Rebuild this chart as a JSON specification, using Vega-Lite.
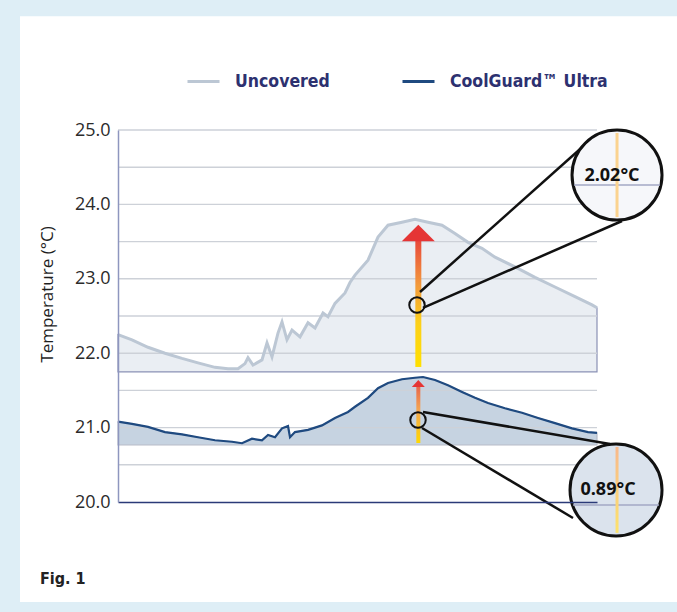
{
  "$schema": "https://vega.github.io/schema/vega-lite/v6.json",
  "width": 479,
  "height": 372,
  "autosize": "none",
  "padding": {"left": 118, "top": 130, "right": 80, "bottom": 110},
  "background": "#deeef6",
  "config": {"view": {"stroke": null}, "font": "Open Sans"},
  "title": {
    "text": "Fig. 1",
    "orient": "bottom",
    "anchor": "start",
    "frame": "group",
    "dx": -78,
    "offset": -31,
    "font": "DejaVu Sans Condensed, sans-serif",
    "fontSize": 16,
    "fontWeight": "bold",
    "color": "#222222"
  },
  "datasets": {
    "panel": [{"x1": -20.46, "x2": 130, "y1": 26.53, "y2": 18.656}],
    "grid": [{"g": 20.5}, {"g": 21.0}, {"g": 21.5}, {"g": 22.0}, {"g": 22.5}, {"g": 23.0}, {"g": 23.5}, {"g": 24.0}, {"g": 24.5}, {"g": 25.0}],
    "curves": [
      {"series": "Uncovered", "t": 0, "temp": 22.25},
      {"series": "Uncovered", "t": 2.92, "temp": 22.18},
      {"series": "Uncovered", "t": 6.26, "temp": 22.08},
      {"series": "Uncovered", "t": 9.81, "temp": 22.0},
      {"series": "Uncovered", "t": 13.36, "temp": 21.93},
      {"series": "Uncovered", "t": 16.7, "temp": 21.87},
      {"series": "Uncovered", "t": 20.25, "temp": 21.81},
      {"series": "Uncovered", "t": 22.96, "temp": 21.79},
      {"series": "Uncovered", "t": 25.05, "temp": 21.79},
      {"series": "Uncovered", "t": 26.51, "temp": 21.86},
      {"series": "Uncovered", "t": 27.14, "temp": 21.94},
      {"series": "Uncovered", "t": 28.18, "temp": 21.84},
      {"series": "Uncovered", "t": 30.06, "temp": 21.91},
      {"series": "Uncovered", "t": 31.11, "temp": 22.14},
      {"series": "Uncovered", "t": 32.15, "temp": 21.95},
      {"series": "Uncovered", "t": 33.4, "temp": 22.27},
      {"series": "Uncovered", "t": 34.24, "temp": 22.42},
      {"series": "Uncovered", "t": 35.28, "temp": 22.18},
      {"series": "Uncovered", "t": 36.33, "temp": 22.31},
      {"series": "Uncovered", "t": 38.0, "temp": 22.22},
      {"series": "Uncovered", "t": 39.67, "temp": 22.41},
      {"series": "Uncovered", "t": 41.13, "temp": 22.34},
      {"series": "Uncovered", "t": 42.8, "temp": 22.54},
      {"series": "Uncovered", "t": 43.84, "temp": 22.49},
      {"series": "Uncovered", "t": 45.3, "temp": 22.67},
      {"series": "Uncovered", "t": 47.39, "temp": 22.81},
      {"series": "Uncovered", "t": 48.43, "temp": 22.95},
      {"series": "Uncovered", "t": 49.48, "temp": 23.05},
      {"series": "Uncovered", "t": 52.19, "temp": 23.25},
      {"series": "Uncovered", "t": 54.28, "temp": 23.56},
      {"series": "Uncovered", "t": 56.37, "temp": 23.72},
      {"series": "Uncovered", "t": 59.29, "temp": 23.76},
      {"series": "Uncovered", "t": 62.0, "temp": 23.8},
      {"series": "Uncovered", "t": 64.72, "temp": 23.76},
      {"series": "Uncovered", "t": 67.64, "temp": 23.72},
      {"series": "Uncovered", "t": 70.35, "temp": 23.61},
      {"series": "Uncovered", "t": 73.07, "temp": 23.49},
      {"series": "Uncovered", "t": 75.99, "temp": 23.41},
      {"series": "Uncovered", "t": 78.71, "temp": 23.29},
      {"series": "Uncovered", "t": 82.88, "temp": 23.16},
      {"series": "Uncovered", "t": 87.06, "temp": 23.02},
      {"series": "Uncovered", "t": 91.23, "temp": 22.89},
      {"series": "Uncovered", "t": 95.41, "temp": 22.76},
      {"series": "Uncovered", "t": 98.96, "temp": 22.65},
      {"series": "Uncovered", "t": 100, "temp": 22.61},
      {"series": "CoolGuard™ Ultra", "t": 0, "temp": 21.08},
      {"series": "CoolGuard™ Ultra", "t": 2.92, "temp": 21.05},
      {"series": "CoolGuard™ Ultra", "t": 6.26, "temp": 21.01},
      {"series": "CoolGuard™ Ultra", "t": 9.81, "temp": 20.94},
      {"series": "CoolGuard™ Ultra", "t": 13.36, "temp": 20.91},
      {"series": "CoolGuard™ Ultra", "t": 16.7, "temp": 20.87},
      {"series": "CoolGuard™ Ultra", "t": 20.25, "temp": 20.83},
      {"series": "CoolGuard™ Ultra", "t": 23.8, "temp": 20.81},
      {"series": "CoolGuard™ Ultra", "t": 25.89, "temp": 20.79},
      {"series": "CoolGuard™ Ultra", "t": 27.97, "temp": 20.85},
      {"series": "CoolGuard™ Ultra", "t": 30.06, "temp": 20.83},
      {"series": "CoolGuard™ Ultra", "t": 31.32, "temp": 20.9},
      {"series": "CoolGuard™ Ultra", "t": 32.78, "temp": 20.87},
      {"series": "CoolGuard™ Ultra", "t": 34.24, "temp": 20.99},
      {"series": "CoolGuard™ Ultra", "t": 35.49, "temp": 21.02},
      {"series": "CoolGuard™ Ultra", "t": 35.91, "temp": 20.87},
      {"series": "CoolGuard™ Ultra", "t": 36.95, "temp": 20.94},
      {"series": "CoolGuard™ Ultra", "t": 39.67, "temp": 20.97},
      {"series": "CoolGuard™ Ultra", "t": 42.59, "temp": 21.03},
      {"series": "CoolGuard™ Ultra", "t": 45.3, "temp": 21.13},
      {"series": "CoolGuard™ Ultra", "t": 48.02, "temp": 21.21},
      {"series": "CoolGuard™ Ultra", "t": 49.48, "temp": 21.28},
      {"series": "CoolGuard™ Ultra", "t": 52.19, "temp": 21.4},
      {"series": "CoolGuard™ Ultra", "t": 54.28, "temp": 21.53},
      {"series": "CoolGuard™ Ultra", "t": 56.37, "temp": 21.6},
      {"series": "CoolGuard™ Ultra", "t": 59.29, "temp": 21.65},
      {"series": "CoolGuard™ Ultra", "t": 62.0, "temp": 21.67},
      {"series": "CoolGuard™ Ultra", "t": 63.67, "temp": 21.68},
      {"series": "CoolGuard™ Ultra", "t": 66.18, "temp": 21.64},
      {"series": "CoolGuard™ Ultra", "t": 68.89, "temp": 21.57},
      {"series": "CoolGuard™ Ultra", "t": 71.82, "temp": 21.48},
      {"series": "CoolGuard™ Ultra", "t": 74.53, "temp": 21.4},
      {"series": "CoolGuard™ Ultra", "t": 77.24, "temp": 21.33},
      {"series": "CoolGuard™ Ultra", "t": 80.79, "temp": 21.26},
      {"series": "CoolGuard™ Ultra", "t": 84.34, "temp": 21.2},
      {"series": "CoolGuard™ Ultra", "t": 87.68, "temp": 21.13},
      {"series": "CoolGuard™ Ultra", "t": 91.23, "temp": 21.06},
      {"series": "CoolGuard™ Ultra", "t": 94.78, "temp": 20.99},
      {"series": "CoolGuard™ Ultra", "t": 98.12, "temp": 20.94},
      {"series": "CoolGuard™ Ultra", "t": 100, "temp": 20.93}
    ],
    "shafts": [
      {"series": "Uncovered", "t": 62.7, "y1": 21.815, "y2": 23.508},
      {"series": "CoolGuard™ Ultra", "t": 62.7, "y1": 20.793, "y2": 21.546}
    ],
    "heads": [
      {"series": "Uncovered", "t": 62.7, "temp": 23.616},
      {"series": "CoolGuard™ Ultra", "t": 62.7, "temp": 21.593}
    ],
    "small": [
      {"series": "Uncovered", "t": 62.42, "temp": 22.648},
      {"series": "CoolGuard™ Ultra", "t": 62.63, "temp": 21.102}
    ],
    "connectors": [
      {"x1": 63.05, "x2": 98.12, "y1": 22.823, "y2": 24.839},
      {"x1": 63.67, "x2": 105.22, "y1": 22.608, "y2": 23.777},
      {"x1": 63.67, "x2": 102.71, "y1": 21.21, "y2": 20.78},
      {"x1": 63.47, "x2": 94.99, "y1": 20.995, "y2": 19.785}
    ],
    "big": [
      {"series": "Uncovered", "t": 104.18, "temp": 24.395},
      {"series": "CoolGuard™ Ultra", "t": 103.97, "temp": 20.161}
    ],
    "hlines": [
      {"x1": 95.2, "x2": 113.15, "y": 24.261},
      {"x1": 94.99, "x2": 112.94, "y": 19.96}
    ],
    "vlines": [
      {"series": "Uncovered", "t": 104.18, "y1": 23.83, "y2": 24.96},
      {"series": "CoolGuard™ Ultra", "t": 104.18, "y1": 19.585, "y2": 20.74}
    ],
    "labels": [
      {"t": 103.13, "temp": 24.382, "label": "2.02°C"},
      {"t": 102.3, "temp": 20.161, "label": "0.89°C"}
    ]
  },
  "layer": [
    {
      "data": {"name": "panel"},
      "mark": {"type": "rect", "fill": "#ffffff"},
      "encoding": {
        "x": {"field": "x1", "type": "quantitative", "scale": {"domain": [0, 100], "nice": false, "zero": false, "padding": 0},
              "axis": {"labels": false, "ticks": false, "grid": false, "title": null, "domainColor": "#2b3a78", "domainWidth": 1.5, "zindex": 1}},
        "x2": {"field": "x2"},
        "y": {"field": "y1", "type": "quantitative", "scale": {"domain": [20, 25], "nice": false, "zero": false, "padding": 0},
              "axis": {"values": [20, 21, 22, 23, 24, 25], "format": ".1f", "ticks": false, "grid": false, "labelPadding": 8, "zindex": 1,
                       "labelFont": "Open Sans", "labelFontSize": 18, "labelColor": "#2b2b2b",
                       "domainColor": "#8e96bf", "domainWidth": 1.5,
                       "title": "Temperature (°C)", "titleFont": "Open Sans", "titleFontSize": 17, "titleFontWeight": "normal",
                       "titleColor": "#1e1e1e", "titleAngle": 270, "titleX": -66, "titleY": 164, "titleBaseline": "alphabetic", "titleAlign": "center"}},
        "y2": {"field": "y2"}
      }
    },
    {
      "data": {"name": "curves"},
      "transform": [{"filter": "datum.series === 'Uncovered'"}],
      "mark": {"type": "area", "fill": "#e6ebf1", "fillOpacity": 0.85, "stroke": "#8a91b5", "strokeWidth": 1.2},
      "encoding": {
        "x": {"field": "t", "type": "quantitative"},
        "y": {"field": "temp", "type": "quantitative"},
        "y2": {"datum": 21.75}
      }
    },
    {
      "data": {"name": "curves"},
      "transform": [{"filter": "datum.series !== 'Uncovered'"}],
      "mark": {"type": "area", "fill": "#bccbdc", "fillOpacity": 0.85, "stroke": "#b7bcc8", "strokeWidth": 1.2},
      "encoding": {
        "x": {"field": "t", "type": "quantitative"},
        "y": {"field": "temp", "type": "quantitative"},
        "y2": {"datum": 20.766}
      }
    },
    {
      "data": {"name": "grid"},
      "mark": {"type": "rule", "stroke": "#cdd1d8", "strokeWidth": 1.4},
      "encoding": {"y": {"field": "g", "type": "quantitative"}}
    },
    {
      "data": {"name": "curves"},
      "transform": [{"filter": "datum.series === 'Uncovered'"}],
      "mark": {"type": "line", "strokeWidth": 3},
      "encoding": {
        "x": {"field": "t", "type": "quantitative"},
        "y": {"field": "temp", "type": "quantitative"},
        "color": {"field": "series", "type": "nominal",
                  "scale": {"domain": ["Uncovered", "CoolGuard™ Ultra"], "range": ["#bcc7d4", "#1f4a80"]},
                  "legend": {"orient": "none", "legendX": 68, "legendY": -66, "direction": "horizontal", "title": null,
                             "symbolType": "stroke", "symbolSize": 1024, "symbolStrokeWidth": 3,
                             "labelFont": "DejaVu Sans Condensed, sans-serif", "labelFontSize": 17.5,
                             "labelFontWeight": "bold", "labelColor": "#2d3170", "labelOffset": 14, "columnPadding": 66,
                             "padding": 0, "labelLimit": 300}}
      }
    },
    {
      "data": {"name": "curves"},
      "transform": [{"filter": "datum.series !== 'Uncovered'"}],
      "mark": {"type": "line", "strokeWidth": 2.2},
      "encoding": {
        "x": {"field": "t", "type": "quantitative"},
        "y": {"field": "temp", "type": "quantitative"},
        "color": {"field": "series", "type": "nominal",
                  "scale": {"domain": ["Uncovered", "CoolGuard™ Ultra"], "range": ["#bcc7d4", "#1f4a80"]}}
      }
    },
    {
      "data": {"name": "shafts"},
      "transform": [{"filter": "datum.series === 'Uncovered'"}],
      "mark": {"type": "bar", "size": 6,
               "color": {"gradient": "linear", "x1": 0, "y1": 0, "x2": 0, "y2": 1,
                         "stops": [{"offset": 0, "color": "#e8483a"}, {"offset": 0.35, "color": "#f39a3c"}, {"offset": 0.65, "color": "#fcd01a"}, {"offset": 1, "color": "#ffe000"}]}},
      "encoding": {
        "x": {"field": "t", "type": "quantitative"},
        "y": {"field": "y1", "type": "quantitative"},
        "y2": {"field": "y2"}
      }
    },
    {
      "data": {"name": "shafts"},
      "transform": [{"filter": "datum.series !== 'Uncovered'"}],
      "mark": {"type": "bar", "size": 4,
               "color": {"gradient": "linear", "x1": 0, "y1": 0, "x2": 0, "y2": 1,
                         "stops": [{"offset": 0, "color": "#e8684a"}, {"offset": 0.4, "color": "#f4a552"}, {"offset": 1, "color": "#ffd800"}]}},
      "encoding": {
        "x": {"field": "t", "type": "quantitative"},
        "y": {"field": "y1", "type": "quantitative"},
        "y2": {"field": "y2"}
      }
    },
    {
      "data": {"name": "heads"},
      "transform": [{"filter": "datum.series === 'Uncovered'"}],
      "mark": {"type": "point", "shape": "M-1,0.5L1,0.5L0,-0.5Z", "size": 1089, "filled": true, "fill": "#e53535", "opacity": 1, "strokeWidth": 0},
      "encoding": {
        "x": {"field": "t", "type": "quantitative"},
        "y": {"field": "temp", "type": "quantitative"}
      }
    },
    {
      "data": {"name": "heads"},
      "transform": [{"filter": "datum.series !== 'Uncovered'"}],
      "mark": {"type": "point", "shape": "M-1,0.55L1,0.55L0,-0.55Z", "size": 169, "filled": true, "fill": "#e53535", "opacity": 1, "strokeWidth": 0},
      "encoding": {
        "x": {"field": "t", "type": "quantitative"},
        "y": {"field": "temp", "type": "quantitative"}
      }
    },
    {
      "data": {"name": "small"},
      "mark": {"type": "point", "shape": "circle", "size": 240, "filled": false, "stroke": "#111111", "strokeWidth": 2, "opacity": 1},
      "encoding": {
        "x": {"field": "t", "type": "quantitative"},
        "y": {"field": "temp", "type": "quantitative"}
      }
    },
    {
      "data": {"name": "connectors"},
      "mark": {"type": "rule", "stroke": "#111111", "strokeWidth": 2.5},
      "encoding": {
        "x": {"field": "x1", "type": "quantitative"},
        "x2": {"field": "x2"},
        "y": {"field": "y1", "type": "quantitative"},
        "y2": {"field": "y2"}
      }
    },
    {
      "data": {"name": "big"},
      "transform": [{"filter": "datum.series === 'Uncovered'"}],
      "mark": {"type": "point", "shape": "circle", "size": 8100, "filled": true, "fill": "#f6f7fa", "stroke": "#111111", "strokeWidth": 3, "opacity": 1},
      "encoding": {
        "x": {"field": "t", "type": "quantitative"},
        "y": {"field": "temp", "type": "quantitative"}
      }
    },
    {
      "data": {"name": "big"},
      "transform": [{"filter": "datum.series !== 'Uncovered'"}],
      "mark": {"type": "point", "shape": "circle", "size": 8464, "filled": true, "fill": "#dbe3ed", "stroke": "#111111", "strokeWidth": 3, "opacity": 1},
      "encoding": {
        "x": {"field": "t", "type": "quantitative"},
        "y": {"field": "temp", "type": "quantitative"}
      }
    },
    {
      "data": {"name": "hlines"},
      "mark": {"type": "rule", "stroke": "#a3a8c4", "strokeWidth": 1.4},
      "encoding": {
        "x": {"field": "x1", "type": "quantitative"},
        "x2": {"field": "x2"},
        "y": {"field": "y", "type": "quantitative"}
      }
    },
    {
      "data": {"name": "vlines"},
      "transform": [{"filter": "datum.series === 'Uncovered'"}],
      "mark": {"type": "bar", "size": 3, "color": "#fbd38f"},
      "encoding": {
        "x": {"field": "t", "type": "quantitative"},
        "y": {"field": "y1", "type": "quantitative"},
        "y2": {"field": "y2"}
      }
    },
    {
      "data": {"name": "vlines"},
      "transform": [{"filter": "datum.series !== 'Uncovered'"}],
      "mark": {"type": "bar", "size": 3,
               "color": {"gradient": "linear", "x1": 0, "y1": 0, "x2": 0, "y2": 1,
                         "stops": [{"offset": 0, "color": "#f8b98c"}, {"offset": 1, "color": "#fde36c"}]}},
      "encoding": {
        "x": {"field": "t", "type": "quantitative"},
        "y": {"field": "y1", "type": "quantitative"},
        "y2": {"field": "y2"}
      }
    },
    {
      "data": {"name": "labels"},
      "mark": {"type": "text", "font": "Open Sans", "fontWeight": "bold", "fontSize": 18, "color": "#111111", "align": "center", "baseline": "middle"},
      "encoding": {
        "x": {"field": "t", "type": "quantitative"},
        "y": {"field": "temp", "type": "quantitative"},
        "text": {"field": "label"}
      }
    }
  ]
}
